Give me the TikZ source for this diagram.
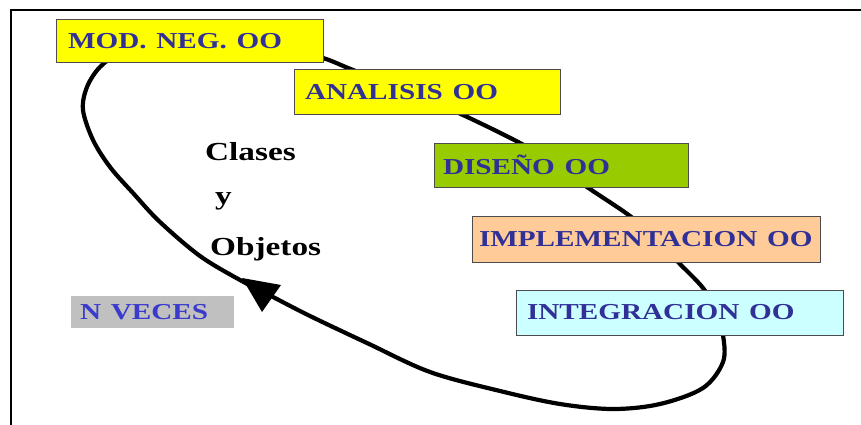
\documentclass[tikz,border=0pt]{standalone}
\usepackage{fontspec}
\setmainfont{Liberation Serif}
\definecolor{phasetext}{RGB}{48,48,150}
\definecolor{nvtext}{RGB}{58,58,205}
\definecolor{modfill}{RGB}{255,255,0}
\definecolor{disfill}{RGB}{153,204,0}
\definecolor{impfill}{RGB}{255,204,153}
\definecolor{intfill}{RGB}{204,255,255}
\definecolor{nvfill}{RGB}{192,192,192}
\newcommand{\widetxt}[1]{\scalebox{1.28}[1]{#1}}
\tikzset{
  phase/.style={draw=black!70, line width=1pt, rectangle, anchor=center,
    inner xsep=#1, inner ysep=0pt, align=left, text=phasetext,
    font=\fontsize{22.8}{27}\selectfont\bfseries},
  loopline/.style={line width=4.2pt, line join=round},
  note/.style={anchor=base west, inner sep=0pt, font=\fontsize{26}{30}\selectfont\bfseries},
}
\begin{document}
\begin{tikzpicture}[x=1pt,y=-1pt]
\useasboundingbox (0,0) rectangle (861,425);
\fill[white] (0,0) rectangle (861,425);
% frame
\draw[line width=2pt] (11,425) -- (11,10) -- (861,10);
% the iteration loop
\draw[loopline]
  plot[smooth cycle, tension=0.55] coordinates {
    (323,58) (353,70) (410,92) (463,115) (520,143) (555,164) (587,187)
    (630,216) (656,239) (678,262) (703,288) (716,311) (723,335) (723,362)
    (703,388) (660,404) (613,409) (560,404) (500,391) (430,372) (367,343)
    (310,316) (273,297) (240,280) (200,256) (160,222) (133,193) (110,167)
    (93,140) (83,110) (87,87) (100,67) (120,54) (165,44) (220,42) (280,47)};
% arrowhead showing the direction of the loop
\fill[line join=miter] (242,278) -- (281,285) -- (262,312) -- cycle;
% phase boxes
\node[phase=12pt, fill=modfill, minimum height=43pt, text width=243pt]
  (mod) at (189.5,41.5) {\widetxt{MOD. NEG. OO}};
\node[phase=11pt, fill=modfill, minimum height=45pt, text width=244pt]
  (ana) at (427,92.5) {\widetxt{ANALISIS OO}};
\node[phase=9pt, fill=disfill, minimum height=44pt, text width=236pt]
  (dis) at (561,165) {\widetxt{DISEÑO OO}};
\node[phase=7pt, fill=impfill, minimum height=46pt, text width=334pt]
  (imp) at (646,239) {\widetxt{IMPLEMENTACION OO}};
\node[phase=11pt, fill=intfill, minimum height=45pt, text width=305pt]
  (int) at (679.5,312.5) {\widetxt{INTEGRACION OO}};
\node[phase=9pt, draw=none, fill=nvfill, text=nvtext, minimum height=32pt, text width=145pt]
  (nv) at (152.5,312) {\widetxt{N VECES}};
% central label
\node[note] (clases) at (205,160) {\widetxt{Clases}};
\node[note] (yy) at (215,204) {\widetxt{y}};
\node[note] (objetos) at (210,255) {\widetxt{Objetos}};
\end{tikzpicture}
\end{document}
